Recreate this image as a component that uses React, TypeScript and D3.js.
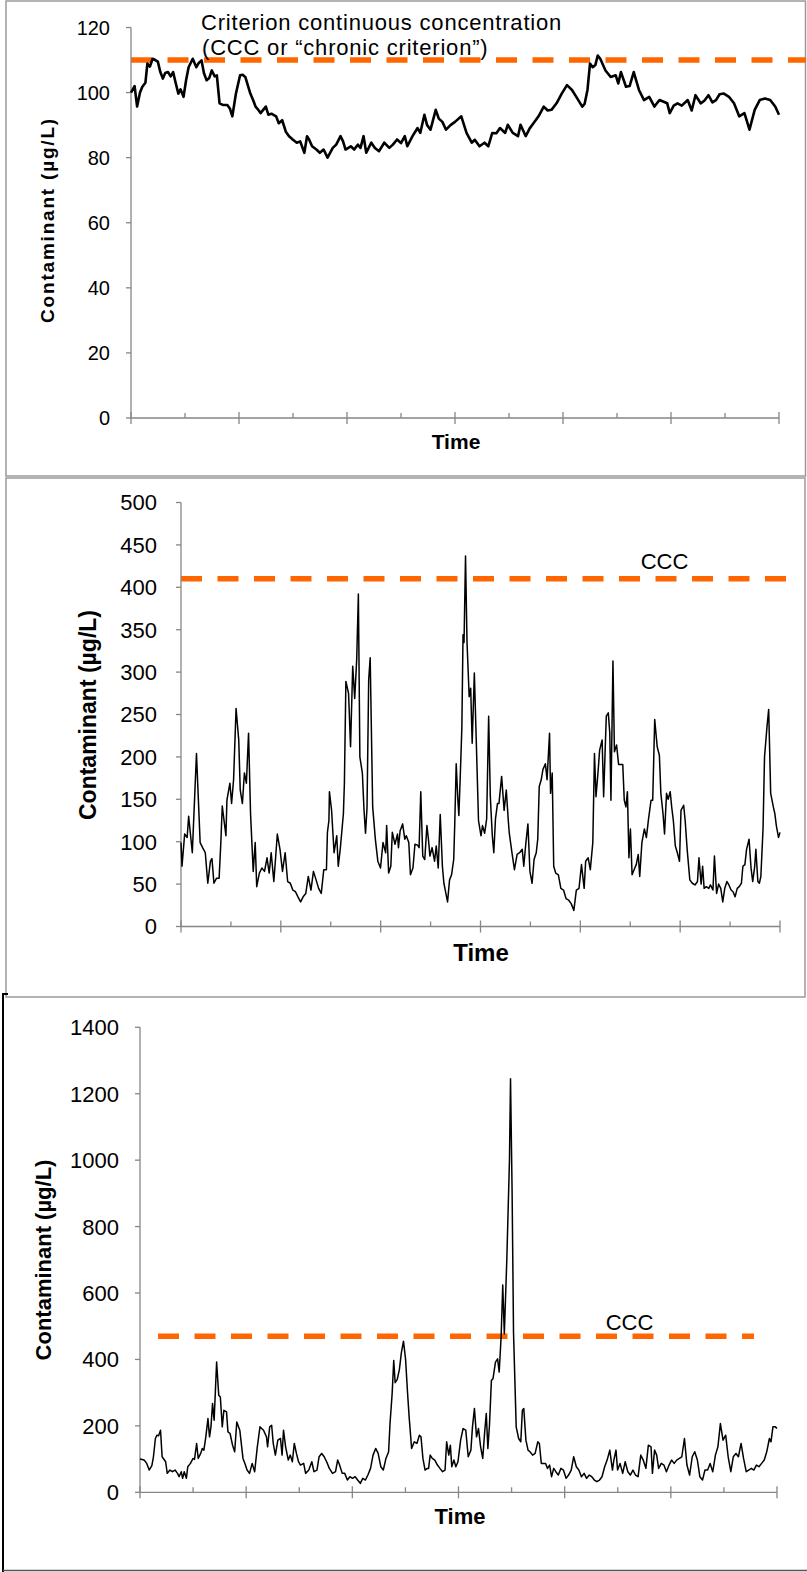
import React from 'react';
import * as d3 from 'd3';

// ---- Data: time in days over one year, concentration in µg/L ----

const cccSteady = 110;
const cccPeaks = 410;
const cccSpike = 470;

const ticksSteady = [0, 20, 40, 60, 80, 100, 120];
const ticksPeaks = [0, 50, 100, 150, 200, 250, 300, 350, 400, 450, 500];
const ticksSpike = [0, 200, 400, 600, 800, 1000, 1200, 1400];

const majorDays = [0, 60, 120, 180, 240, 300, 360];
const minorDays = [30, 90, 150, 210, 270, 330];

// Slowly varying record that stays near the criterion
const steadySeries: [number, number][] = [
  [0, 100], [2, 102], [3.4, 95.7], [5, 100], [6.3, 101.8], [8, 103], [9.1, 108.9], [10.5, 108],
  [12, 110.4], [13.5, 110], [14.9, 109.5], [16.3, 106.3], [17.7, 104.3], [19, 106], [20.6, 106.3],
  [22, 105], [23.4, 106.3], [24.9, 102.8], [26.3, 99.7], [27.5, 101], [29.2, 98.7], [30.6, 103.8],
  [32, 107.8], [34.3, 110.4], [36.3, 107.8], [37.5, 109], [39.2, 109.9], [40.5, 106], [42, 103.8],
  [43.5, 104.5], [44.9, 106.8], [46.5, 105], [47.7, 105.3], [49.2, 96.7], [51, 96.2], [53.5, 96.2],
  [55, 95], [56.3, 92.7], [58.3, 99.7], [60.6, 105.3], [62, 105.5], [63.5, 104.8], [66.3, 99.7],
  [68, 97.5], [69.2, 95.7], [71, 94.5], [72, 93.7], [74.9, 95.7], [76.3, 93.2], [78, 93.5],
  [80.6, 92.7], [82.1, 90.6], [84, 91.5], [86, 88], [87.8, 86.6], [90, 85.5], [92.1, 84.6],
  [94, 85], [96.3, 81.5], [97.8, 86.6], [99, 85.5], [100.6, 83.5], [103, 82.5], [104.9, 81.5],
  [107, 82.5], [109.2, 80], [112.1, 83], [114, 84], [116.4, 86.6], [117.8, 85], [119.2, 82.5],
  [122.1, 83.5], [124, 82.5], [126, 84], [127.5, 83], [129.2, 86.6], [130.7, 81.5], [133.5, 84.6],
  [135.5, 83], [137.8, 82], [140.7, 84.6], [143.5, 83], [145.5, 84], [147.8, 85.6], [150, 84.5],
  [152.1, 86.6], [153.5, 83.5], [156.4, 86.6], [159.2, 89.1], [160.7, 87.6], [163, 93.2],
  [164.5, 90], [166.4, 88.6], [169.3, 94.7], [171, 92], [173, 91], [175, 88.6], [177.5, 90],
  [180, 91], [183.5, 92.7], [186.4, 87.6], [189.3, 84.6], [191, 85.5], [193.6, 83.5], [196.4, 84.6],
  [198.5, 83.5], [200.7, 87.6], [203, 87.5], [205, 89.1], [207.9, 87.6], [209.3, 90.1],
  [212.1, 87.6], [215, 86.6], [216.4, 90.1], [219.3, 86.6], [221.5, 89], [223.6, 90.6],
  [226.4, 92.7], [229.3, 95.7], [231.5, 94.5], [233.6, 94.7], [236.4, 96.7], [239.3, 99.7],
  [242.2, 102.3], [245, 100.8], [247.9, 98.2], [250.7, 95.7], [252, 96.5], [253.6, 100.8],
  [255, 108.9], [256.5, 107.8], [258, 108.5], [259.3, 111.4], [260.7, 110.4], [263.6, 106.8],
  [266.5, 104.8], [269.3, 105.3], [270.7, 102.8], [272.2, 106.3], [275, 101.8], [277, 102],
  [279.3, 106.3], [282.2, 100.8], [285, 97.7], [287.9, 98.7], [290.8, 95.7], [293.6, 97.7],
  [297.9, 96.7], [299.3, 93.7], [301.5, 96], [303.6, 96.7], [306, 96], [309.3, 97.7], [311.5, 94.5],
  [313.6, 99.2], [316.5, 96.7], [318.5, 97.5], [320.8, 99.2], [323, 97], [325, 97.7], [327, 99.5],
  [329.4, 99.7], [332.2, 98.7], [335, 96.7], [337.9, 92.7], [340.8, 93.7], [343.6, 88.6],
  [346.5, 94.7], [349.3, 97.7], [352.2, 98.2], [355.1, 97.7], [357.9, 95.7], [360, 93.2],
];

// Record with repeated seasonal peaks, one crossing the criterion
const peakSeries: [number, number][] = [
  [0, 99], [0.6, 71], [2.2, 109], [3.7, 105], [4.6, 130], [6.8, 87], [9.3, 204], [11.5, 99],
  [13, 93], [14.6, 87], [16.1, 51], [17.7, 77], [18.6, 80], [19.8, 51], [21.4, 57], [22.9, 57],
  [23.9, 97], [24.8, 142], [27, 107], [27.6, 149], [29.4, 169], [30.4, 145], [31.6, 173],
  [33.1, 257], [34.7, 220], [35.6, 161], [36.9, 145], [38.1, 181], [39.3, 169], [40.6, 228],
  [41.8, 133], [43.4, 65], [44.6, 99], [45.5, 47], [47.1, 63], [48.6, 69], [50.2, 65], [51.7, 81],
  [53, 63], [54.2, 87], [55.8, 53], [57.9, 109], [59.5, 91], [61, 65], [62.6, 87], [64.1, 53],
  [65.7, 51], [67.2, 43], [68.8, 41], [70.3, 35], [71.9, 29], [73.4, 35], [75, 39], [76.5, 59],
  [78.1, 43], [79.6, 65], [81.2, 55], [82.7, 45], [84.3, 39], [85.8, 67], [87.4, 67], [88, 111],
  [88.9, 125], [89.2, 159], [90.5, 137], [92, 87], [93.6, 107], [94.5, 71], [95.7, 91], [97.6, 133],
  [98.2, 169], [99.1, 289], [100.7, 275], [101.9, 212], [103.2, 307], [104.4, 269], [105.6, 315],
  [106.6, 392], [107.5, 200], [109, 181], [110, 137], [110.9, 110], [111.8, 140], [112.8, 291],
  [113.7, 317], [115.2, 141], [116.8, 103], [118.3, 77], [119.9, 69], [121.4, 99], [123, 87],
  [123.6, 119], [124.8, 63], [126.1, 71], [127, 111], [128.6, 97], [130.1, 109], [130.7, 93],
  [131.7, 113], [133.2, 121], [134.5, 103], [135.4, 107], [136.9, 99], [137.9, 61], [139.4, 69],
  [140.6, 97], [142.2, 96], [143.1, 93], [144.1, 159], [145.3, 83], [146.5, 79], [147.8, 119],
  [148.7, 103], [149.6, 83], [150.9, 93], [152.4, 77], [153.4, 95], [154.6, 69], [155.8, 132],
  [157.1, 71], [158, 51], [159.2, 39], [160.2, 29], [161.4, 55], [162.6, 61], [163.9, 79],
  [164.5, 119], [165.4, 192], [166.4, 149], [167, 131], [167.9, 181], [168.8, 235], [169.5, 344],
  [170.1, 335], [171, 437], [171.9, 335], [173.2, 271], [174.1, 281], [175, 216], [176.3, 299],
  [177.5, 216], [178.8, 125], [180.3, 107], [181.2, 119], [182.5, 110], [183.7, 127], [184.9, 248],
  [185.9, 153], [187.1, 107], [188, 87], [189, 127], [190.2, 145], [191.1, 145], [192.7, 177],
  [194.2, 137], [195.5, 161], [196.7, 125], [197.3, 110], [198.9, 87], [200.4, 67], [202, 85],
  [203.5, 87], [205.1, 91], [206, 71], [207.3, 99], [208.5, 121], [209.7, 65], [211, 51],
  [212.2, 79], [213.5, 87], [214.4, 103], [215.3, 165], [216.5, 173], [217.5, 185], [219, 192],
  [220, 173], [221.5, 228], [222.1, 157], [223.1, 181], [224, 71], [225.2, 63], [226.8, 61],
  [228.3, 45], [229.9, 43], [231.4, 33], [233, 31], [234.5, 27], [236.1, 19], [237.6, 43],
  [239.2, 45], [240.7, 73], [242.3, 45], [243.2, 77], [244.7, 81], [246, 67], [247.5, 99],
  [248.5, 204], [249.4, 153], [250.6, 181], [251.6, 208], [253.1, 220], [254, 153], [255.6, 248],
  [256.8, 252], [257.7, 228], [258.4, 149], [259.6, 313], [260.5, 206], [261.8, 214], [263, 191],
  [265.5, 191], [266.4, 149], [267.4, 141], [268.3, 159], [269.2, 81], [270.1, 115], [271.1, 61],
  [272.3, 67], [273.6, 73], [274.8, 85], [275.7, 59], [277, 99], [278.5, 115], [279.7, 105],
  [281, 127], [282.5, 149], [283.5, 149], [284.7, 244], [286.2, 212], [287.5, 202], [288.4, 157],
  [289.7, 133], [290.6, 109], [291.8, 157], [292.8, 150], [294, 159], [294.9, 141], [295.9, 125],
  [297.1, 95], [298.3, 87], [299.6, 77], [300.5, 137], [302.1, 143], [303, 125], [304.2, 91],
  [305.8, 55], [307.3, 51], [308.9, 49], [310.4, 53], [311.3, 81], [312.6, 50], [313.5, 71],
  [314.4, 45], [315.7, 47], [317.2, 45], [318.2, 49], [319.7, 43], [320.6, 83], [321.9, 39],
  [323.1, 50], [324.4, 45], [325.6, 29], [326.8, 45], [328.1, 53], [329.3, 49], [330.6, 43],
  [331.8, 41], [333, 35], [334.3, 45], [335.5, 47], [336.8, 51], [337.7, 71], [338.9, 73],
  [339.9, 91], [341.4, 103], [342.6, 69], [343.6, 53], [344.8, 71], [345.5, 91], [346.7, 53],
  [347.6, 51], [348.5, 59], [349.8, 115], [350.7, 200], [352.2, 236], [353.2, 256], [354.4, 157],
  [356, 141], [356.9, 133], [357.8, 119], [359.1, 105], [360, 111],
];

// Record with a single large spike
const spikeSeries: [number, number][] = [
  [0, 100], [2.3, 97], [3.8, 87], [5.2, 67], [6.7, 80], [7.6, 107], [8.7, 162], [9.6, 172],
  [10.5, 170], [11.6, 187], [12.5, 107], [14.5, 92], [15.4, 57], [16.9, 67], [18.3, 62],
  [19.8, 67], [21.2, 57], [22.1, 47], [23.3, 62], [24.1, 42], [25, 62], [26.2, 42], [27, 77],
  [28.5, 87], [30, 102], [30.8, 99], [32, 147], [32.9, 102], [34.3, 117], [35.2, 132], [36.1, 127],
  [37.2, 167], [38.4, 222], [39.3, 167], [40.1, 197], [41, 267], [41.9, 217], [43.3, 392],
  [44.5, 292], [45.4, 287], [46.5, 197], [47.4, 247], [48.9, 242], [49.7, 182], [50.9, 177],
  [52.3, 142], [53.5, 122], [54.7, 212], [56.4, 187], [58.2, 102], [59.3, 87], [60.5, 67],
  [61.9, 57], [63.4, 87], [64.8, 62], [66.3, 137], [67.8, 197], [69.8, 187], [71.5, 167],
  [72.1, 137], [73.3, 197], [74.4, 202], [75.3, 147], [76.5, 112], [77.9, 157], [79.4, 162],
  [80.3, 112], [81.1, 187], [82.3, 137], [83.8, 97], [84.9, 112], [86.1, 92], [87.2, 147],
  [88.4, 117], [89.6, 92], [90.7, 82], [92.5, 87], [93.6, 57], [95.4, 67], [97.1, 92], [98.3, 62],
  [100, 67], [101.2, 107], [102.7, 117], [104.1, 107], [105.9, 87], [107, 72], [108.8, 57],
  [110.5, 62], [111.7, 97], [112.8, 82], [114.3, 57], [115.7, 57], [117.2, 37], [118.6, 47],
  [120.1, 42], [121.6, 47], [123, 37], [124.5, 27], [125.9, 42], [127.4, 37], [128.8, 52],
  [130.3, 72], [131.7, 112], [133.2, 132], [134.6, 117], [136.1, 77], [137.5, 67], [139, 102],
  [140.5, 122], [141.3, 207], [142.5, 297], [143.4, 397], [144.2, 330], [145.4, 340], [146.6, 370],
  [147.7, 420], [148.9, 455], [150.1, 400], [151.2, 300], [152.1, 227], [153.5, 132], [155, 152],
  [156.5, 147], [157.9, 172], [158.8, 167], [159.9, 102], [161.1, 67], [162.3, 72], [163.1, 72],
  [164, 112], [165.2, 102], [166.6, 97], [168.1, 82], [169.5, 72], [171, 62], [172.4, 67],
  [173.3, 152], [174.5, 112], [175.4, 142], [176.2, 77], [177.4, 97], [178.5, 77], [179.7, 92],
  [181.2, 157], [182.6, 192], [184.1, 187], [185.5, 107], [187, 127], [187.9, 197], [189, 252],
  [190.2, 167], [191.3, 192], [192.5, 137], [193.7, 102], [194.8, 182], [195.7, 237], [196.6, 132],
  [197.5, 202], [198.6, 337], [199.5, 342], [200.9, 392], [202.1, 402], [203, 362], [204.1, 470],
  [205, 624], [205.9, 477], [207.3, 700], [208.8, 1000], [209.4, 1245], [210.3, 900], [211.1, 480],
  [212.6, 197], [214, 162], [215.2, 152], [216.1, 247], [216.9, 252], [218.1, 157], [219.3, 127],
  [220.4, 122], [221.9, 112], [223.3, 117], [224.8, 152], [225.7, 147], [226.8, 87], [228, 87],
  [229.2, 87], [230.3, 72], [231.5, 82], [232.6, 47], [233.8, 72], [235, 62], [236.4, 52],
  [237.9, 72], [239.3, 67], [240.8, 42], [242.2, 52], [243.7, 67], [245.1, 107], [246.6, 77],
  [248, 67], [249.5, 47], [251, 57], [252.4, 42], [253.9, 52], [255.3, 47], [256.8, 37],
  [258.2, 32], [259.7, 37], [261.1, 47], [262.6, 77], [264, 97], [265.5, 127], [267, 67],
  [267.8, 97], [269, 127], [269.9, 67], [271.3, 87], [272.8, 57], [274.2, 92], [275.7, 62],
  [277.1, 52], [278.6, 67], [280, 52], [281.5, 47], [283, 112], [284.4, 97], [285.9, 72],
  [287.3, 142], [288.8, 137], [289.6, 57], [290.8, 127], [292, 112], [293.1, 72], [294.6, 87],
  [296.1, 82], [297.5, 62], [299, 82], [300.4, 97], [301.9, 87], [303.3, 97], [304.8, 102],
  [306.2, 107], [307.7, 162], [309.1, 82], [310.6, 52], [312.1, 107], [313.5, 122], [315, 97],
  [316.4, 47], [317.9, 37], [319.3, 67], [320.8, 67], [322.2, 87], [323.7, 62], [325.2, 112],
  [326.6, 137], [328, 207], [329.5, 157], [331, 172], [332.4, 107], [333.9, 62], [335.3, 107],
  [336.8, 117], [338.2, 107], [339.7, 147], [341.1, 102], [342.6, 62], [344, 67], [345.5, 72],
  [346.9, 67], [348.4, 82], [349.8, 77], [351.3, 87], [352.8, 97], [354.2, 122], [355.7, 162],
  [356.6, 152], [357.7, 197], [359.1, 197], [360, 192],
];

// ---- Drawing ----

const FONT = "'Liberation Sans', Arial, Helvetica, sans-serif";
const AXIS = '#868686';
const ORANGE = '#FF6600';

type PanelProps = {
  series: [number, number][];
  yTicks: number[];
  ccc: number;
  left: number;
  right: number;
  bottom: number;
  top: number;
  tickFont: number;
  tickLabelEnd: number;
  lineWidth: number;
  cccFrom: number;
  cccTo: number;
  yLabel: { x: number; y: number; size: number; spacing: number };
  timeLabel: { x: number; y: number; size: number };
  cccText?: { x: number; y: number; size: number };
};

function Panel(p: PanelProps) {
  const yMax = p.yTicks[p.yTicks.length - 1];
  const x = d3.scaleLinear().domain([0, 360]).range([p.left, p.right]);
  const y = d3.scaleLinear().domain([0, yMax]).range([p.bottom, p.top]);
  const line = d3
    .line<[number, number]>()
    .x((d) => x(d[0]))
    .y((d) => y(d[1]));
  const y0 = y(0);

  return (
    <g>
      {/* criterion line */}
      <line
        x1={p.cccFrom}
        x2={p.cccTo}
        y1={y(p.ccc)}
        y2={y(p.ccc)}
        stroke={ORANGE}
        strokeWidth={5.5}
        strokeDasharray="21 15.5"
      />
      {/* y axis */}
      <line x1={p.left} x2={p.left} y1={y0} y2={y(yMax)} stroke={AXIS} strokeWidth={1.3} />
      {p.yTicks.map((t) => (
        <g key={'y' + t}>
          <line x1={p.left - 5} x2={p.left} y1={y(t)} y2={y(t)} stroke={AXIS} strokeWidth={1.3} />
          <text
            x={p.tickLabelEnd}
            y={y(t)}
            dy="0.36em"
            textAnchor="end"
            fontFamily={FONT}
            fontSize={p.tickFont}
            fill="#000"
          >
            {t}
          </text>
        </g>
      ))}
      {/* x axis */}
      <line x1={p.left} x2={p.right} y1={y0} y2={y0} stroke={AXIS} strokeWidth={1.3} />
      {majorDays.map((d) => (
        <line key={'M' + d} x1={x(d)} x2={x(d)} y1={y0 - 6} y2={y0 + 6} stroke={AXIS} strokeWidth={1.3} />
      ))}
      {minorDays.map((d) => (
        <line key={'m' + d} x1={x(d)} x2={x(d)} y1={y0 - 5} y2={y0} stroke={AXIS} strokeWidth={1.3} />
      ))}
      {/* data */}
      <path d={line(p.series) || ''} fill="none" stroke="#000" strokeWidth={p.lineWidth} strokeLinejoin="round" />
      {/* axis titles */}
      <text
        transform={`translate(${p.yLabel.x},${p.yLabel.y}) rotate(-90)`}
        textAnchor="middle"
        dy="0.35em"
        fontFamily={FONT}
        fontWeight="bold"
        fontSize={p.yLabel.size}
        letterSpacing={p.yLabel.spacing}
        fill="#000"
      >
        Contaminant (µg/L)
      </text>
      <text
        x={p.timeLabel.x}
        y={p.timeLabel.y}
        textAnchor="middle"
        fontFamily={FONT}
        fontWeight="bold"
        fontSize={p.timeLabel.size}
        fill="#000"
      >
        Time
      </text>
      {p.cccText && (
        <text
          x={p.cccText.x}
          y={p.cccText.y}
          textAnchor="middle"
          fontFamily={FONT}
          fontSize={p.cccText.size}
          fill="#000"
        >
          CCC
        </text>
      )}
    </g>
  );
}

export default function App() {
  return (
    <svg
      width={807}
      height={1572}
      viewBox="0 0 807 1572"
      style={{ position: 'absolute', left: 0, top: 0, display: 'block', background: '#fff' }}
    >
      <rect x={0} y={0} width={807} height={1572} fill="#fff" />
      {/* frames */}
      <rect x={6} y={1} width={799.5} height={475} fill="none" stroke="#9a9a9a" strokeWidth={1.5} />
      <rect x={6} y={478} width={799} height={519} fill="none" stroke="#9a9a9a" strokeWidth={1.5} />
      <line x1={3} x2={3} y1={993} y2={1572} stroke="#000" strokeWidth={2} />
      <line x1={3} x2={8} y1={994} y2={994} stroke="#000" strokeWidth={2} />
      <line x1={3} x2={807} y1={1570.5} y2={1570.5} stroke="#555" strokeWidth={1.5} />

      <Panel
        series={steadySeries}
        yTicks={ticksSteady}
        ccc={cccSteady}
        left={131}
        right={779}
        bottom={418}
        top={27.5}
        tickFont={20}
        tickLabelEnd={110}
        lineWidth={2.6}
        cccFrom={131}
        cccTo={806}
        yLabel={{ x: 47.5, y: 220, size: 19, spacing: 1.8 }}
        timeLabel={{ x: 456, y: 449, size: 21 }}
      />
      <text fontFamily={FONT} fontSize={22} letterSpacing={0.8} fill="#000">
        <tspan x={201} y={30}>Criterion continuous concentration</tspan>
        <tspan x={202} y={54.5}>(CCC or “chronic criterion”)</tspan>
      </text>

      <Panel
        series={peakSeries}
        yTicks={ticksPeaks}
        ccc={cccPeaks}
        left={181}
        right={780}
        bottom={926.5}
        top={502.5}
        tickFont={22}
        tickLabelEnd={157}
        lineWidth={1.5}
        cccFrom={181}
        cccTo={791}
        yLabel={{ x: 87.5, y: 715, size: 23, spacing: 0 }}
        timeLabel={{ x: 481, y: 961, size: 24 }}
        cccText={{ x: 664.5, y: 569, size: 22 }}
      />

      <Panel
        series={spikeSeries}
        yTicks={ticksSpike}
        ccc={cccSpike}
        left={140}
        right={777}
        bottom={1492.3}
        top={1027.3}
        tickFont={22}
        tickLabelEnd={119}
        lineWidth={1.5}
        cccFrom={158}
        cccTo={754}
        yLabel={{ x: 43, y: 1260, size: 22, spacing: 0 }}
        timeLabel={{ x: 460, y: 1524, size: 22 }}
        cccText={{ x: 629.5, y: 1330, size: 22 }}
      />
    </svg>
  );
}
